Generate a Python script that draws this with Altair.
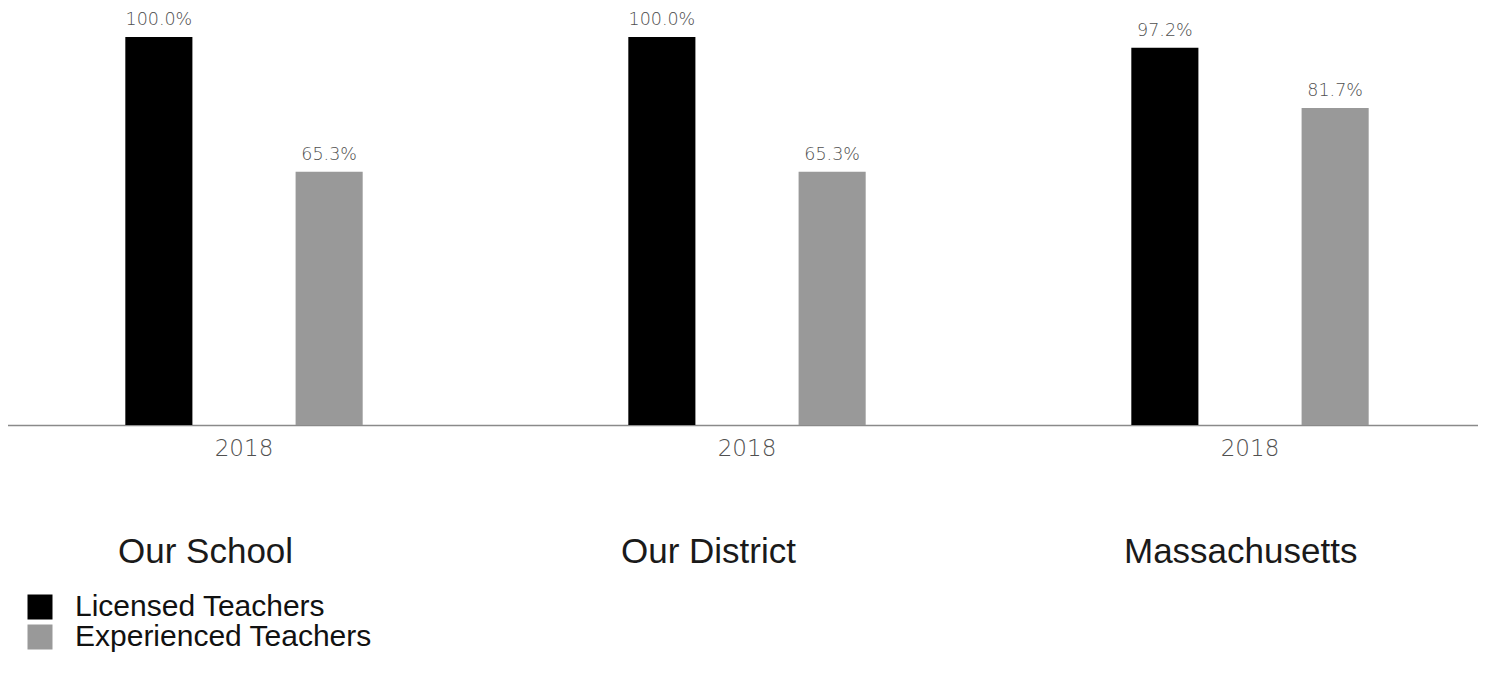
import altair as alt
import pandas as pd

groups = ["Our School", "Our District", "Massachusetts"]
series = ["Licensed Teachers", "Experienced Teachers"]
licensed = [100.0, 100.0, 97.2]
experienced = [65.3, 65.3, 81.7]
year_label = "2018"

rows = []
for g, a, b in zip(groups, licensed, experienced):
    rows.append({"group": g, "series": series[0], "value": a})
    rows.append({"group": g, "series": series[1], "value": b})
df = pd.DataFrame(rows)
df["label"] = df["value"].map(lambda v: f"{v:.1f}%")
gdf = pd.DataFrame({"group": groups})

FONT = "Liberation Sans"
LIGHT = "DejaVu Sans"

x_enc = alt.X(
    "group:N",
    sort=groups,
    scale=alt.Scale(range=[-15.5, 1493.5], paddingInner=0, paddingOuter=0),
    axis=alt.Axis(
        title=None,
        labelExpr=f"'{year_label}'",
        labelAngle=0,
        ticks=False,
        domainColor="#8a8a8a",
        domainWidth=1.5,
        labelFontSize=23,
        labelColor="#505050",
        labelFont=LIGHT,
        labelFontWeight=200,
        labelPadding=12,
    ),
)
xoff = alt.XOffset(
    "series:N", sort=series, scale=alt.Scale(paddingInner=0.606, paddingOuter=0.78)
)
y_enc = alt.Y("value:Q", scale=alt.Scale(domain=[0, 100]), axis=None)

bars = alt.Chart(df).mark_bar().encode(
    x=x_enc,
    xOffset=xoff,
    y=y_enc,
    color=alt.Color(
        "series:N",
        sort=series,
        scale=alt.Scale(domain=series, range=["#000000", "#999999"]),
        legend=alt.Legend(
            title=None,
            orient="none",
            legendX=17,
            legendY=555,
            direction="vertical",
            symbolType="square",
            symbolSize=625,
            symbolStrokeWidth=0,
            labelFontSize=30,
            labelFont=FONT,
            labelColor="#111111",
            labelOffset=20,
            labelLimit=0,
            rowPadding=0,
        ),
    ),
)

labels = alt.Chart(df).mark_text(
    dy=-8, baseline="bottom", fontSize=17.5, font=LIGHT, fontWeight=200, color="#505050"
).encode(x=x_enc, xOffset=xoff, y=y_enc, text="label:N")

titles = alt.Chart(gdf).mark_text(
    align="left", baseline="middle", dx=-126, fontSize=35, font=FONT, color="#1a1a1a"
).encode(x=alt.X("group:N", sort=groups), y=alt.value(515), text="group:N")

chart = (
    alt.layer(bars, labels, titles)
    .properties(
        width=1470,
        height=388,
        autosize=alt.AutoSizeParams(type="none"),
        padding={"left": 0, "top": 29, "right": 0, "bottom": 254},
        background="white",
    )
    .configure_view(stroke=None)
)

chart.save("out.html", embed_options={"renderer": "svg", "actions": False})
